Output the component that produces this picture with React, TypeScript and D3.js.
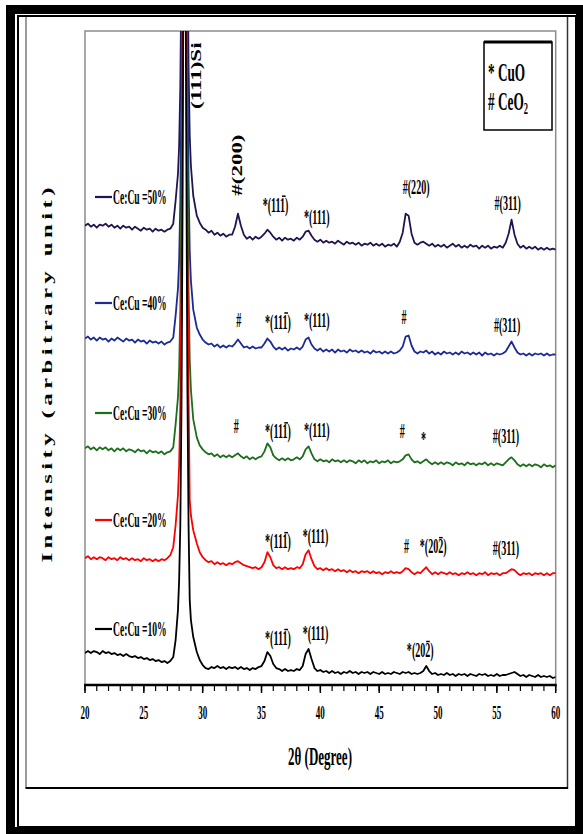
import React from "react";
import * as d3 from "d3";

// 2θ sampling grid (degrees)
const twoTheta = [
  20, 20.25, 20.5, 20.75, 21, 21.25, 21.5, 21.75, 22, 22.25, 22.5, 22.75, 23, 23.25, 23.5, 23.75,
  24, 24.25, 24.5, 24.75, 25, 25.25, 25.5, 25.75, 26, 26.25, 26.5, 26.75, 27, 27.25, 27.5,
  27.7, 27.9, 28.0, 28.1, 28.2, 28.3, 28.4, 28.5, 28.6, 28.7, 28.8, 28.9, 29.0, 29.2,
  29.5, 29.75, 30, 30.25, 30.5, 30.75, 31, 31.25, 31.5, 31.75, 32, 32.25, 32.5, 32.75,
  33, 33.25, 33.5, 33.75, 34, 34.25, 34.5, 34.75, 35, 35.25, 35.5, 35.75, 36, 36.25, 36.5, 36.75,
  37, 37.25, 37.5, 37.75, 38, 38.25, 38.5, 38.75, 39, 39.25, 39.5, 39.75, 40, 40.25, 40.5, 40.75,
  41, 41.25, 41.5, 41.75, 42, 42.25, 42.5, 42.75, 43, 43.25, 43.5, 43.75, 44, 44.25, 44.5, 44.75,
  45, 45.25, 45.5, 45.75, 46, 46.25, 46.5, 46.75, 47, 47.25, 47.5, 47.75, 48, 48.25, 48.5, 48.75,
  49, 49.25, 49.5, 49.75, 50, 50.25, 50.5, 50.75, 51, 51.25, 51.5, 51.75, 52, 52.25, 52.5, 52.75,
  53, 53.25, 53.5, 53.75, 54, 54.25, 54.5, 54.75, 55, 55.25, 55.5, 55.75, 56, 56.25, 56.5, 56.75,
  57, 57.25, 57.5, 57.75, 58, 58.25, 58.5, 58.75, 59, 59.25, 59.5, 59.75, 60,
];

// Intensities (arbitrary units, stacked traces)
const ce50 = [
  460, 462, 459, 461, 458, 461, 460, 462, 459, 461,
  458, 460, 457, 460, 458, 459, 456, 459, 457, 455,
  458, 456, 457, 454, 457, 455, 456, 454, 456, 457,
  462, 485, 512, 540, 600, 720, 950, 1300, 1300, 1000,
  760, 620, 550, 520, 490, 470, 463, 458, 456, 453,
  455, 451, 453, 450, 452, 449, 451, 451, 459, 472,
  460, 451, 447, 449, 446, 449, 447, 449, 452, 456,
  453, 449, 446, 448, 445, 448, 446, 447, 445, 448,
  446, 449, 454, 455, 450, 446, 444, 446, 443, 445,
  443, 444, 442, 445, 443, 441, 444, 442, 443, 441,
  443, 440, 442, 441, 443, 440, 442, 440, 442, 439,
  441, 440, 442, 439, 444, 453, 472, 470, 452, 443,
  441, 443, 444, 442, 440, 442, 439, 441, 439, 441,
  438, 440, 442, 439, 441, 438, 440, 438, 441, 439,
  440, 437, 440, 438, 440, 437, 439, 438, 440, 438,
  443, 452, 466, 451, 442, 438, 440, 437, 439, 437,
  439, 436, 438, 436, 438, 436, 437, 436,
];
const ce40 = [
  347, 349, 346, 348, 345, 348, 346, 347, 344, 347,
  345, 348, 346, 344, 347, 345, 346, 343, 346, 344,
  345, 342, 345, 343, 344, 342, 344, 341, 343, 344,
  348, 370, 397, 425, 485, 605, 835, 1200, 1200, 885,
  645, 505, 435, 405, 376, 358, 351, 346, 343, 341,
  342, 339, 341, 338, 340, 338, 340, 339, 342, 346,
  342, 338, 339, 337, 339, 337, 338, 338, 342, 347,
  344, 339, 336, 338, 336, 338, 335, 337, 336, 338,
  336, 339, 346, 348, 341, 337, 335, 337, 334, 336,
  334, 336, 333, 336, 334, 335, 333, 336, 334, 335,
  333, 335, 333, 334, 332, 335, 333, 334, 332, 334,
  332, 334, 332, 333, 335, 339, 349, 350, 340, 334,
  332, 334, 333, 335, 332, 334, 331, 333, 331, 334,
  332, 333, 331, 333, 331, 334, 332, 333, 331, 333,
  331, 333, 330, 333, 331, 332, 330, 332, 331, 332,
  334, 339, 344, 338, 333, 331, 332, 330, 332, 330,
  332, 331, 332, 330, 332, 330, 331, 331,
];
const ce30 = [
  237, 239, 236, 238, 235, 238, 236, 238, 235, 237,
  234, 237, 235, 237, 234, 236, 235, 233, 236, 234,
  235, 232, 235, 233, 234, 232, 234, 231, 233, 234,
  238, 261, 288, 316, 376, 496, 726, 1080, 1080, 775,
  535, 396, 326, 296, 266, 248, 240, 236, 233, 231,
  232, 229, 231, 228, 230, 228, 230, 228, 230, 232,
  229, 227, 229, 226, 228, 226, 228, 229, 234, 242,
  238, 230, 227, 225, 227, 225, 227, 225, 226, 228,
  226, 229, 236, 239, 232, 226, 224, 226, 224, 225,
  223, 226, 224, 225, 223, 225, 223, 225, 224, 222,
  225, 223, 225, 222, 224, 223, 225, 222, 224, 223,
  225, 222, 224, 223, 224, 226, 230, 231, 226, 223,
  224, 222, 224, 226, 223, 221, 223, 221, 223, 221,
  223, 222, 220, 223, 221, 222, 220, 223, 221, 222,
  220, 222, 221, 223, 220, 222, 220, 222, 221, 220,
  223, 226, 228, 225, 221, 219, 221, 219, 221, 219,
  221, 220, 218, 221, 219, 220, 218, 220,
];
const ce20 = [
  127, 129, 126, 128, 126, 128, 127, 125, 128, 126,
  127, 125, 128, 126, 127, 125, 127, 125, 126, 124,
  127, 125, 126, 124, 126, 124, 126, 125, 127, 130,
  138, 160, 190, 220, 280, 400, 630, 990, 990, 690,
  440, 290, 185, 170, 155, 142, 133, 128, 125, 123,
  124, 121, 123, 121, 122, 120, 122, 121, 123, 124,
  122, 120, 119, 118, 117, 118, 116, 118, 123, 133,
  128, 120, 117, 118, 116, 118, 116, 117, 116, 118,
  117, 121, 131, 135, 126, 119, 116, 117, 115, 117,
  115, 116, 114, 116, 114, 115, 113, 115, 113, 114,
  112, 114, 113, 114, 112, 114, 112, 113, 111, 113,
  112, 114, 112, 113, 112, 114, 117, 116, 113, 111,
  113, 112, 115, 118, 114, 111, 113, 111, 113, 112,
  111, 113, 111, 112, 110, 112, 111, 113, 111, 112,
  110, 112, 111, 113, 110, 112, 111, 112, 110, 112,
  112, 114, 116, 115, 112, 110, 112, 111, 112, 110,
  112, 111, 112, 110, 112, 110, 112, 112,
];
const ce10 = [
  32, 34, 32, 34, 33, 31, 34, 32, 33, 31,
  32, 30, 31, 29, 31, 29, 28, 29, 27, 28,
  26, 27, 25, 26, 24, 25, 23, 24, 22, 24,
  28, 45, 75, 105, 160, 280, 500, 850, 850, 560,
  300, 160, 85, 65, 48, 33, 25, 20, 17, 16,
  18, 17, 19, 17, 18, 16, 18, 17, 18, 16,
  18, 16, 17, 15, 17, 16, 18, 19, 24, 33,
  29, 21, 17, 16, 14, 16, 14, 15, 14, 16,
  15, 19, 31, 36, 26, 17, 14, 15, 13, 14,
  12, 14, 12, 13, 11, 13, 12, 14, 12, 13,
  11, 13, 12, 13, 11, 13, 12, 11, 13, 11,
  12, 11, 13, 12, 11, 13, 12, 13, 11, 12,
  11, 12, 14, 19, 14, 11, 12, 10, 11, 10,
  12, 10, 11, 9, 11, 10, 11, 9, 11, 10,
  9, 11, 10, 11, 9, 10, 9, 11, 9, 10,
  10, 11, 12, 13, 11, 9, 10, 8, 10, 9,
  8, 10, 8, 9, 8, 9, 7, 8,
];

const sampleNames = ["Ce:Cu =50%", "Ce:Cu =40%", "Ce:Cu =30%", "Ce:Cu =20%", "Ce:Cu =10%"];
const sampleSeries = [ce50, ce40, ce30, ce20, ce10];

// peak annotations: [2θ of label start, intensity of label baseline, text, overlined char index]
const peakLabels50: [number, number, string, number][] = [
  [35.1, 474, "*(111)", 4], [38.6, 462, "*(111)", -1], [47.0, 492, "#(220)", -1], [54.8, 476, "#(311)", -1],
];
const peakLabels40: [number, number, string, number][] = [
  [32.85, 359, "#", -1], [35.3, 357, "*(111)", 4], [38.6, 359, "*(111)", -1], [46.9, 362, "#", -1], [54.75, 354, "#(311)", -1],
];
const peakLabels30: [number, number, string, number][] = [
  [32.65, 252, "#", -1], [35.3, 247, "*(111)", 4], [38.6, 248, "*(111)", -1], [46.75, 247, "#", -1], [48.55, 239, "*", -1], [54.65, 242, "#(311)", -1],
];
const peakLabels20: [number, number, string, number][] = [
  [35.3, 137, "*(111)", 4], [38.5, 142, "*(111)", -1], [47.1, 132, "#", -1], [48.45, 132, "*(202)", 4], [54.65, 130, "#(311)", -1],
];
const peakLabels10: [number, number, string, number][] = [
  [35.3, 40, "*(111)", 4], [38.5, 45, "*(111)", -1], [47.35, 28, "*(202)", 4],
];
const peakLabels = [...peakLabels50, ...peakLabels40, ...peakLabels30, ...peakLabels20, ...peakLabels10];

// rotated labels: [2θ of baseline, intensity of start, text]
const verticalLabels: [number, number, string][] = [
  [29.86, 577, "(111)Si"],
  [33.34, 490, "#(200)"],
];

const xDomain = [20, 60];
const xTickLabels = ["20", "25", "30", "35", "40", "45", "50", "55", "60"];

const traceColors = ["#23134f", "#1c2b94", "#1c6e1c", "#ff0000", "#000000"];

const charEm: Record<string, number> = { "*": 0.5, "(": 0.333, ")": 0.333, "#": 0.5, "0": 0.5, "1": 0.5, "2": 0.5, "3": 0.5 };

function Squeezed({ x, y, text, bar, fs, sx }: { x: number; y: number; text: string; bar: number; fs: number; sx: number }) {
  let start = 0;
  for (let i = 0; i < bar; i++) start += charEm[text[i]] ?? 0.5;
  const w = bar >= 0 ? charEm[text[bar]] ?? 0.5 : 0;
  return (
    <g transform={`translate(${x},${y}) scale(${sx},1)`}>
      <text fontSize={fs} fontWeight="bold" fill="#000">{text}</text>
      {bar >= 0 && (
        <line x1={(start + 0.08) * fs} x2={(start + w - 0.06) * fs} y1={-0.74 * fs} y2={-0.74 * fs} stroke="#000" strokeWidth={1.5} />
      )}
    </g>
  );
}

export default function App() {
  const W = 583, H = 834;
  const plot = { left: 85, right: 555.7, top: 31, bottom: 685 };
  const x = d3.scaleLinear().domain(xDomain).range([plot.left, plot.right]);
  const y = d3.scaleLinear().domain([0, 655]).range([plot.bottom, plot.top]);

  const line = (vals: number[]) =>
    d3.line<number>().x((_, i) => x(twoTheta[i])).y((d) => y(d))(vals) || "";

  const minor = x.ticks(40);
  const major = x.ticks(8);
  const legendY = [197, 303, 413, 520, 629];

  return (
    <svg width={W} height={H} style={{ position: "absolute", left: 0, top: 0, background: "#fff" }}
      fontFamily="'Liberation Serif', 'Times New Roman', serif">
      <defs>
        <clipPath id="plotClip">
          <rect x={plot.left} y={plot.top} width={plot.right - plot.left} height={plot.bottom - plot.top} />
        </clipPath>
      </defs>
      {/* page frame */}
      <rect x={6} y={5} width={577} height={829} fill="#000" />
      <rect x={15} y={14} width={561} height={813} fill="#fff" />
      <rect x={18} y={16} width={558} height={811} fill="none" stroke="#000" strokeWidth={2} />
      <line x1={26} y1={17} x2={26} y2={788} stroke="#666" strokeWidth={1.3} />
      <line x1={567.5} y1={17} x2={567.5} y2={789} stroke="#333" strokeWidth={1.5} />
      <line x1={25.5} y1={788} x2={568} y2={788} stroke="#000" strokeWidth={2} />

      {/* plot box */}
      <rect x={plot.left} y={plot.top} width={plot.right - plot.left} height={plot.bottom - plot.top}
        fill="none" stroke="#8c8c8c" strokeWidth={1.5} />

      {/* traces */}
      <g clipPath="url(#plotClip)">
        {sampleSeries.map((s, k) => (
          <path key={k} d={line(s)} fill="none" stroke={traceColors[k]} strokeWidth={1.8} strokeLinejoin="round" />
        ))}
      </g>

      {/* x axis */}
      <line x1={plot.left - 1} x2={plot.right + 1} y1={plot.bottom} y2={plot.bottom} stroke="#000" strokeWidth={2.5} />
      {minor.map((t) => (
        <line key={"m" + t} x1={x(t)} x2={x(t)} y1={plot.bottom} y2={plot.bottom + 6} stroke="#000" strokeWidth={1.2} />
      ))}
      {major.map((t, i) => (
        <g key={"M" + t}>
          <line x1={x(t)} x2={x(t)} y1={plot.bottom} y2={plot.bottom + 8} stroke="#000" strokeWidth={1.5} />
          <g transform={`translate(${x(t)},719) scale(0.5,1)`}>
            <text fontSize={18} fontWeight="bold" textAnchor="middle">{xTickLabels[i]}</text>
          </g>
        </g>
      ))}
      <g transform="translate(320,765) scale(0.5,1)">
        <text fontSize={26} fontWeight="bold" textAnchor="middle">2θ (Degree)</text>
      </g>

      {/* y axis title */}
      <g transform="translate(52,375) scale(0.6,1) rotate(-90)">
        <text fontSize={25} fontWeight="bold" textAnchor="middle" textLength={375} lengthAdjust="spacing">
          Intensity (arbitrary unit)
        </text>
      </g>

      {/* sample legend entries */}
      {sampleNames.map((n, k) => (
        <g key={n}>
          <line x1={95} x2={112} y1={legendY[k]} y2={legendY[k]} stroke={traceColors[k]} strokeWidth={2.2} />
          <g transform={`translate(113,${legendY[k] + 7}) scale(0.48,1)`}>
            <text fontSize={20} fontWeight="bold">{n}</text>
          </g>
        </g>
      ))}

      {/* peak labels */}
      {peakLabels.map(([t, h, txt, bar], i) => (
        <Squeezed key={i} x={x(t)} y={y(h)} text={txt} bar={bar} fs={21} sx={0.48} />
      ))}
      {verticalLabels.map(([t, h, txt], i) => (
        <g key={"v" + i} transform={`translate(${x(t)},${y(h)}) scale(0.6,1) rotate(-90)`}>
          <text fontSize={23} fontWeight="bold">{txt}</text>
        </g>
      ))}

      {/* phase legend box */}
      <rect x={484} y={42} width={68} height={88} fill="#fff" stroke="#000" strokeWidth={1.5} />
      <line x1={484} x2={552} y1={42} y2={42} stroke="#000" strokeWidth={3} />
      <g transform="translate(488,81) scale(0.53,1)">
        <text fontSize={25} fontWeight="bold">* CuO</text>
      </g>
      <g transform="translate(488,110) scale(0.53,1)">
        <text fontSize={25} fontWeight="bold"># CeO<tspan fontSize={16} dy={4}>2</tspan></text>
      </g>
    </svg>
  );
}
